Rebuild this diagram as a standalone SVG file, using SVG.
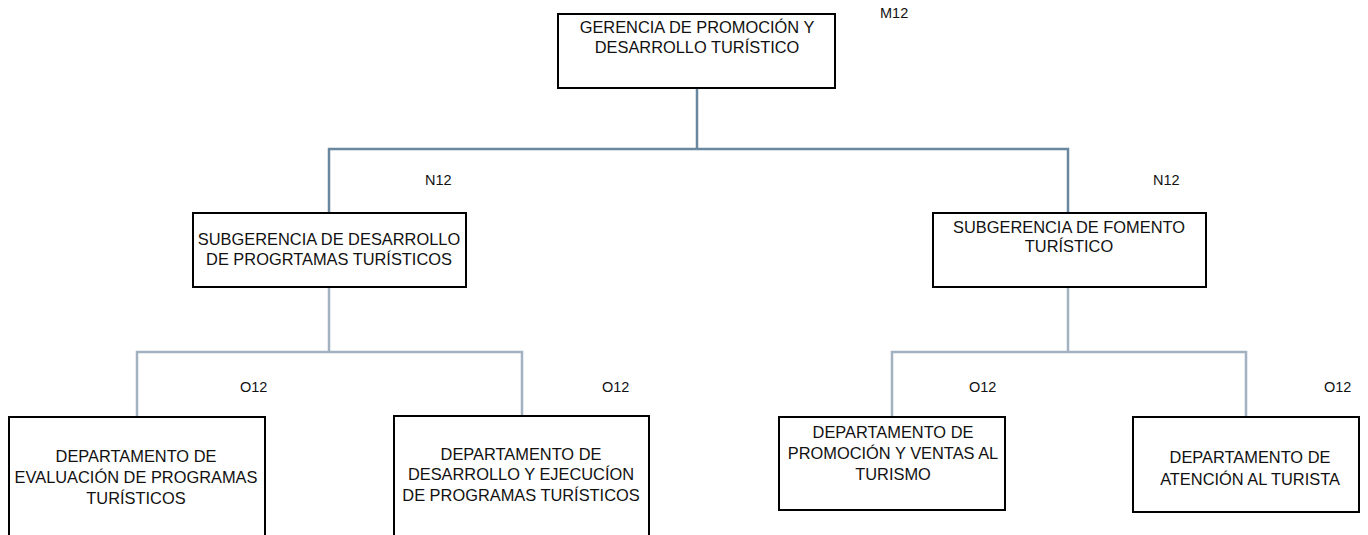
<svg xmlns="http://www.w3.org/2000/svg" width="1368" height="535" viewBox="0 0 1368 535">
<style>
.box{fill:#fff;stroke:#000;stroke-width:2}
.t{font-family:"Liberation Sans",Arial,sans-serif;font-size:16.4px;fill:#111;text-anchor:middle}
.c{font-family:"Liberation Sans",Arial,sans-serif;font-size:14.5px;fill:#111}
.l1{fill:none;stroke:#6a87a0;stroke-width:2.5}
.l2{fill:none;stroke:#a3b2c1;stroke-width:2.5}
</style>
<rect width="1368" height="535" fill="#fff"/>
<g id="connectors">
<path class="l1" d="M697 88V149M329 213V149H1068V213"/>
<path class="l2" d="M329 287V352M137 417V352H522V417"/>
<path class="l2" d="M1068 287V352M892 417V352H1246V417"/>
</g>
<g id="gerencia">
<rect class="box" x="558" y="14" width="277" height="74"/>
<text class="t" x="697" y="33">GERENCIA DE PROMOCIÓN Y</text>
<text class="t" x="697" y="53">DESARROLLO TURÍSTICO</text>
<text class="c" x="880" y="18">M12</text>
</g>
<g id="sub-desarrollo">
<rect class="box" x="193" y="213" width="273" height="74"/>
<text class="t" x="329" y="245">SUBGERENCIA DE DESARROLLO</text>
<text class="t" x="329" y="265">DE PROGRTAMAS TURÍSTICOS</text>
<text class="c" x="425" y="185">N12</text>
</g>
<g id="sub-fomento">
<rect class="box" x="933" y="213" width="273" height="74"/>
<text class="t" x="1069" y="233">SUBGERENCIA DE FOMENTO</text>
<text class="t" x="1069" y="252">TURÍSTICO</text>
<text class="c" x="1153" y="185">N12</text>
</g>
<g id="dep-evaluacion">
<rect class="box" x="9" y="417" width="256" height="130"/>
<text class="t" x="136" y="462">DEPARTAMENTO DE</text>
<text class="t" x="136" y="483">EVALUACIÓN DE PROGRAMAS</text>
<text class="t" x="136" y="504">TURÍSTICOS</text>
<text class="c" x="240" y="392">O12</text>
</g>
<g id="dep-ejecucion">
<rect class="box" x="394" y="416" width="255" height="130"/>
<text class="t" x="521" y="460">DEPARTAMENTO DE</text>
<text class="t" x="521" y="480">DESARROLLO Y EJECUCÍON</text>
<text class="t" x="521" y="501">DE PROGRAMAS TURÍSTICOS</text>
<text class="c" x="602" y="392">O12</text>
</g>
<g id="dep-promocion">
<rect class="box" x="779" y="417" width="226" height="93"/>
<text class="t" x="893" y="438">DEPARTAMENTO DE</text>
<text class="t" x="893" y="459">PROMOCIÓN Y VENTAS AL</text>
<text class="t" x="893" y="480">TURISMO</text>
<text class="c" x="969" y="392">O12</text>
</g>
<g id="dep-atencion">
<rect class="box" x="1133" y="417" width="226" height="95"/>
<text class="t" x="1250" y="463">DEPARTAMENTO DE</text>
<text class="t" x="1250" y="485">ATENCIÓN AL TURISTA</text>
<text class="c" x="1324" y="392">O12</text>
</g>
</svg>
